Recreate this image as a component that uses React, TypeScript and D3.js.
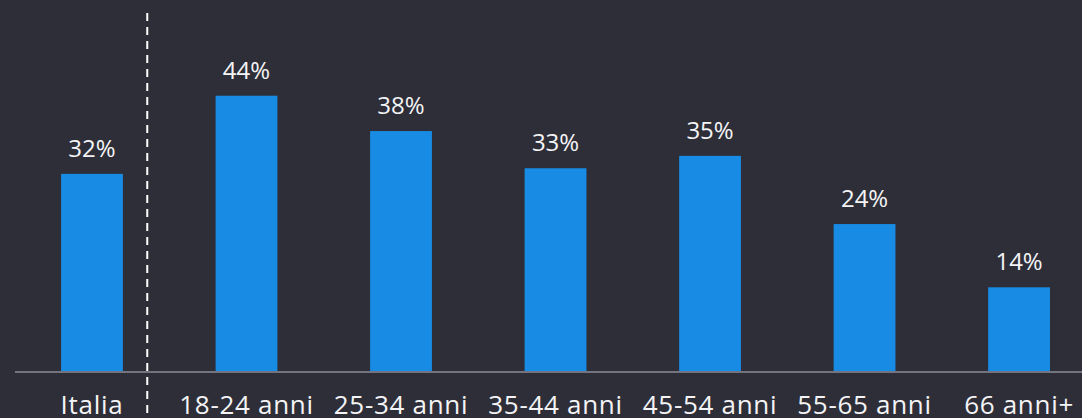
import React from "react";
import * as d3 from "d3";

const categories = ["Italia", "18-24 anni", "25-34 anni", "35-44 anni", "45-54 anni", "55-65 anni", "66 anni+"];
const values = [31.8, 44.4, 38.7, 32.7, 34.7, 23.7, 13.5];
const valueLabels = ["32%", "44%", "38%", "33%", "35%", "24%", "14%"];

const W = 1082;
const H = 418;
const BG = "#2e2e38";
const BAR = "#188ce5";
const FONT = "'Open Sans', 'Noto Sans', sans-serif";

export default function App() {
  const x = d3
    .scaleBand<string>()
    .domain(categories)
    .range([15, W])
    .paddingInner(0.6)
    .paddingOuter(0.2528)
    .align(0.59);
  const y = d3.scaleLinear().domain([0, 50]).range([371, 61]);
  const bw = x.bandwidth();
  const sepX = (x(categories[0])! + bw + x(categories[1])!) / 2 - 22;

  return (
    <svg
      width={W}
      height={H}
      style={{ position: "fixed", left: 0, top: 0, display: "block", background: BG }}
    >
      <rect x={0} y={0} width={W} height={H} fill={BG} />
      {categories.map((c, i) => (
        <g key={c}>
          <rect x={x(c)} y={y(values[i])} width={bw} height={y(0) - y(values[i])} fill={BAR} />
          <text
            x={x(c)! + bw / 2}
            y={y(values[i]) - 17}
            textAnchor="middle"
            fill="#f4f4f6"
            fontFamily={FONT}
            fontSize={24}
          >
            {valueLabels[i]}
          </text>
          <text
            x={x(c)! + bw / 2}
            y={414}
            textAnchor="middle"
            fill="#f4f4f6"
            fontFamily={FONT}
            fontSize={26}
            letterSpacing={0.7}
          >
            {c}
          </text>
        </g>
      ))}
      <line x1={15} x2={W} y1={372} y2={372} stroke="#747480" strokeWidth={2} />
      <line
        x1={sepX}
        x2={sepX}
        y1={13}
        y2={H}
        stroke="#ffffff"
        strokeWidth={2}
        strokeDasharray="8 6"
      />
    </svg>
  );
}
